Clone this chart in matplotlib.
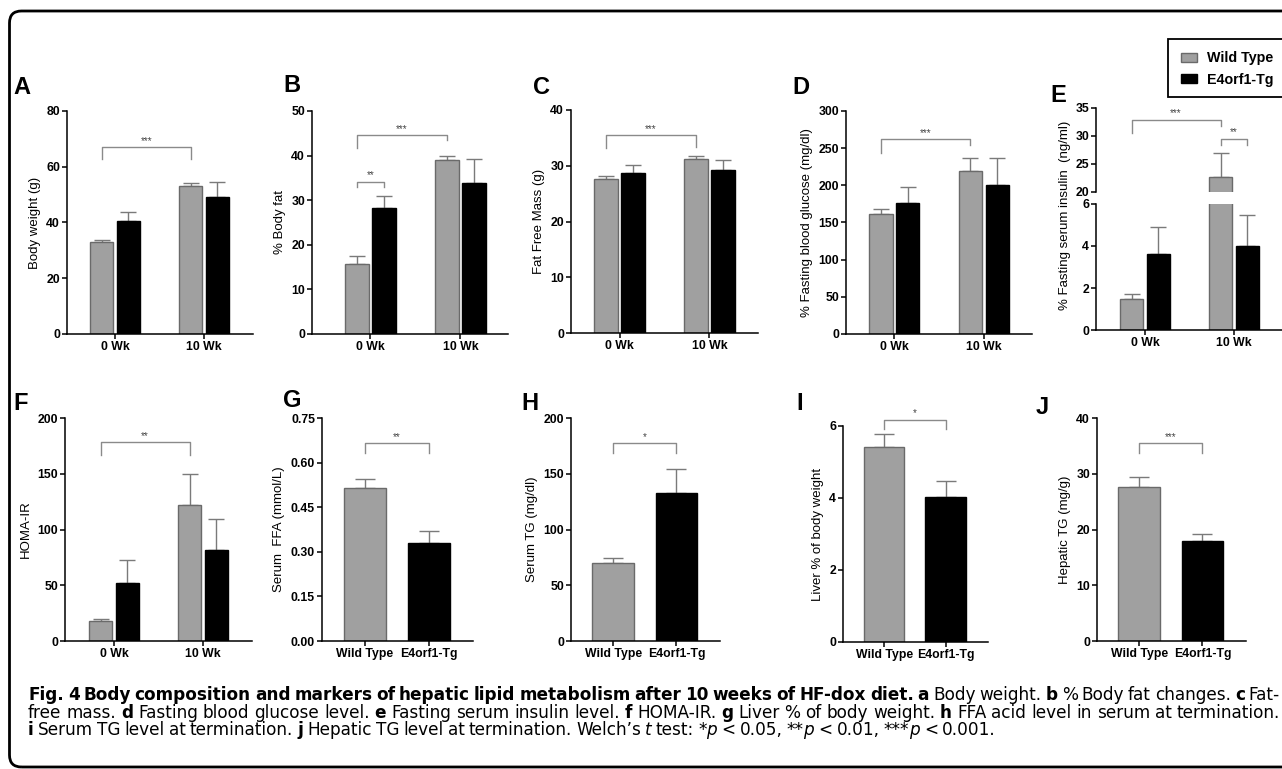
import numpy as np
import matplotlib
matplotlib.use('Agg')
import matplotlib.pyplot as plt
from matplotlib.patches import Patch, FancyBboxPatch, Rectangle

plt.rcParams['font.family'] = ['Liberation Sans', 'DejaVu Sans']

W, H = 1282, 769

# ---- data (mean, upper error) ----
groups = ['0 Wk', '10 Wk']
genotypes = ['Wild Type', 'E4orf1-Tg']

body_weight_wt = [33.0, 53.0]
body_weight_wt_err = [0.7, 1.1]
body_weight_tg = [40.5, 49.1]
body_weight_tg_err = [3.2, 5.4]

body_fat_wt = [15.7, 39.0]
body_fat_wt_err = [1.8, 0.9]
body_fat_tg = [28.3, 33.9]
body_fat_tg_err = [2.6, 5.3]

ffm_wt = [27.6, 31.2]
ffm_wt_err = [0.6, 0.6]
ffm_tg = [28.7, 29.2]
ffm_tg_err = [1.4, 1.8]

glucose_wt = [161.5, 219.0]
glucose_wt_err = [6.5, 18.0]
glucose_tg = [176.0, 200.0]
glucose_tg_err = [22.0, 37.0]

insulin_wt = [1.5, 22.6]
insulin_wt_err = [0.2, 4.4]
insulin_tg = [3.6, 4.0]
insulin_tg_err = [1.3, 1.5]

homa_wt = [18.0, 122.0]
homa_wt_err = [2.0, 28.0]
homa_tg = [52.0, 81.6]
homa_tg_err = [20.6, 27.4]

ffa = [0.515, 0.33]
ffa_err = [0.03, 0.04]
serum_tg = [70.0, 132.7]
serum_tg_err = [4.4, 21.3]
liver_pct = [5.42, 4.03]
liver_pct_err = [0.36, 0.44]
hepatic_tg = [27.6, 17.9]
hepatic_tg_err = [1.8, 1.3]

GRAY = '#a0a0a0'
GRAY_EDGE = '#6a6a6a'
ERR = '#7a7a7a'
BRK = '#8a8a8a'
YLAB = 9.5

fig = plt.figure(figsize=(W / 100, H / 100), dpi=100)


def px_axes(l, t, r, b):
    return fig.add_axes([l / W, 1 - b / H, (r - l) / W, (b - t) / H])


def style_axes(ax, yticks, ylabels=None, bottom=True):
    for s in ['top', 'right']:
        ax.spines[s].set_visible(False)
    for s in ['left', 'bottom']:
        ax.spines[s].set_linewidth(1.1)
    if not bottom:
        ax.spines['bottom'].set_visible(False)
        ax.set_xticks([])
    ax.tick_params(direction='out', length=3.5, width=1.1, pad=1.5, labelsize=8.8)
    if ylabels is None:
        ylabels = [f'{v:g}' for v in yticks]
    ax.set_yticks(yticks, labels=ylabels, fontweight='bold')


def bracket(ax, x1, x2, y, d1, d2, label):
    ax.plot([x1, x1, x2, x2], [d1, y, y, d2], color=BRK, lw=1.0, clip_on=False)
    ax.annotate(label, ((x1 + x2) / 2, y), xytext=(0, 1), textcoords='offset points',
                ha='center', va='bottom', fontsize=7, color='#444444', annotation_clip=False)


def group_bars(ax, wt, wt_err, tg, tg_err, capsize=5.8):
    x = np.arange(len(groups))
    ax.bar(x - 0.15, wt, 0.26, color=GRAY, edgecolor=GRAY_EDGE, linewidth=1.0, zorder=2)
    ax.bar(x + 0.15, tg, 0.26, color='black', edgecolor='black', linewidth=1.0, zorder=2)
    ax.errorbar(x - 0.15, wt, yerr=[np.zeros(2), wt_err], fmt='none', ecolor=ERR,
                elinewidth=1.0, capsize=capsize, capthick=1.0, zorder=1)
    ax.errorbar(x + 0.15, tg, yerr=[np.zeros(2), tg_err], fmt='none', ecolor=ERR,
                elinewidth=1.0, capsize=capsize, capthick=1.0, zorder=1)
    ax.set_xticks(x, labels=groups, fontweight='bold')


def single_bars(ax, vals, err):
    x = np.arange(len(genotypes))
    ax.bar(x, vals, 0.66, color=[GRAY, 'black'], edgecolor=[GRAY_EDGE, 'black'],
           linewidth=1.0, zorder=2)
    ax.errorbar(x, vals, yerr=[np.zeros(2), err], fmt='none', ecolor=ERR,
                elinewidth=1.0, capsize=7.5, capthick=1.0, zorder=1)
    ax.set_xticks(x, labels=genotypes, fontweight='bold')
    ax.set_xlim(-0.67, 1.69)


# ---- row 1 ----
ax = px_axes(67, 111, 253, 334)
group_bars(ax, body_weight_wt, body_weight_wt_err, body_weight_tg, body_weight_tg_err)
ax.set_xlim(-0.54, 1.55)
ax.set_ylim(0, 80)
style_axes(ax, [0, 20, 40, 60, 80])
ax.set_ylabel('Body weight (g)', fontsize=YLAB)
bracket(ax, -0.15, 0.85, 67.0, 62.7, 62.7, '***')

ax = px_axes(312, 111, 508, 334)
group_bars(ax, body_fat_wt, body_fat_wt_err, body_fat_tg, body_fat_tg_err)
ax.set_xlim(-0.65, 1.53)
ax.set_ylim(0, 50)
style_axes(ax, [0, 10, 20, 30, 40, 50])
ax.set_ylabel('% Body fat', fontsize=YLAB)
bracket(ax, -0.15, 0.85, 44.6, 41.7, 43.5, '***')
bracket(ax, -0.15, 0.15, 34.1, 33.0, 33.0, '**')

ax = px_axes(571, 110, 758, 333)
group_bars(ax, ffm_wt, ffm_wt_err, ffm_tg, ffm_tg_err)
ax.set_xlim(-0.54, 1.54)
ax.set_ylim(0, 40)
style_axes(ax, [0, 10, 20, 30, 40])
ax.set_ylabel('Fat Free Mass (g)', fontsize=YLAB)
bracket(ax, -0.15, 0.85, 35.5, 33.2, 33.4, '***')

ax = px_axes(846, 111, 1032, 334)
group_bars(ax, glucose_wt, glucose_wt_err, glucose_tg, glucose_tg_err)
ax.set_xlim(-0.54, 1.54)
ax.set_ylim(0, 300)
style_axes(ax, [0, 50, 100, 150, 200, 250, 300])
ax.set_ylabel('% Fasting blood glucose (mg/dl)', fontsize=YLAB)
bracket(ax, -0.15, 0.85, 262, 243.6, 254, '***')

# broken axis panel E
ax_up = px_axes(1096, 108, 1282, 192)
group_bars(ax_up, insulin_wt, insulin_wt_err, insulin_tg, insulin_tg_err)
ax_up.set_xlim(-0.55, 1.54)
ax_up.set_ylim(20, 35)
style_axes(ax_up, [20, 25, 30, 35], bottom=False)
bracket(ax_up, -0.15, 0.85, 32.9, 30.5, 31.8, '***')
bracket(ax_up, 0.85, 1.15, 29.5, 28.4, 28.4, '**')

ax_lo = px_axes(1096, 204, 1282, 330)
group_bars(ax_lo, insulin_wt, insulin_wt_err, insulin_tg, insulin_tg_err)
ax_lo.set_xlim(-0.55, 1.54)
ax_lo.set_ylim(0, 6)
style_axes(ax_lo, [0, 2, 4, 6])
fig.text(1065 / W, 1 - 215 / H, '% Fasting serum insulin  (ng/ml)', rotation=90,
         ha='center', va='center', fontsize=YLAB)

# ---- row 2 ----
ax = px_axes(65, 418, 252, 641)
group_bars(ax, homa_wt, homa_wt_err, homa_tg, homa_tg_err)
ax.set_xlim(-0.55, 1.55)
ax.set_ylim(0, 200)
style_axes(ax, [0, 50, 100, 150, 200])
ax.set_ylabel('HOMA-IR', fontsize=YLAB)
bracket(ax, -0.15, 0.85, 178.5, 167, 167, '**')

ax = px_axes(322, 418, 473, 641)
single_bars(ax, ffa, ffa_err)
ax.set_ylim(0, 0.75)
ffa_ticks = [0, 0.15, 0.30, 0.45, 0.60, 0.75]
style_axes(ax, ffa_ticks, [f'{v:.2f}' for v in ffa_ticks])
ax.set_ylabel('Serum  FFA (mmol/L)', fontsize=YLAB)
bracket(ax, 0, 1, 0.666, 0.632, 0.632, '**')

ax = px_axes(571, 418, 720, 641)
single_bars(ax, serum_tg, serum_tg_err)
ax.set_ylim(0, 200)
style_axes(ax, [0, 50, 100, 150, 200])
ax.set_ylabel('Serum TG (mg/dl)', fontsize=YLAB)
bracket(ax, 0, 1, 177.6, 168.6, 168.6, '*')

ax = px_axes(843, 426, 988, 642)
single_bars(ax, liver_pct, liver_pct_err)
ax.set_ylim(0, 6)
style_axes(ax, [0, 2, 4, 6])
ax.set_ylabel('Liver % of body weight', fontsize=YLAB)
bracket(ax, 0, 1, 6.17, 5.92, 5.92, '*')

ax = px_axes(1097, 418, 1246, 641)
single_bars(ax, hepatic_tg, hepatic_tg_err)
ax.set_ylim(0, 40)
style_axes(ax, [0, 10, 20, 30, 40])
ax.set_ylabel('Hepatic TG (mg/g)', fontsize=YLAB)
bracket(ax, 0, 1, 35.5, 33.7, 33.7, '***')

# panel letters
letters = ['A', 'B', 'C', 'D', 'E', 'F', 'G', 'H', 'I', 'J']
letter_xy = [(13, 88), (283, 86), (533, 88), (792, 88), (1050, 95),
             (13, 403), (283, 400), (521, 403), (796, 403), (1036, 408)]
for lab, (lx, ly) in zip(letters, letter_xy):
    fig.text(lx / W, 1 - ly / H, lab, fontsize=17, fontweight='bold', ha='left', va='center')

# legend (box runs off the right edge like the source)
fig.patches.append(Rectangle((1168, H - 97), 140, 58, transform=None,
                             facecolor='white', edgecolor='black', linewidth=1.3))
fig.legend(handles=[Patch(facecolor=GRAY, edgecolor=GRAY_EDGE),
                    Patch(facecolor='black', edgecolor='black')],
           labels=genotypes, loc='center left', bbox_to_anchor=(1181 / W, 1 - 69 / H),
           prop={'weight': 'bold', 'size': 10.3}, frameon=False,
           handlelength=1.1, handleheight=0.6,
           borderpad=0.0, labelspacing=0.5, handletextpad=0.7, borderaxespad=0)

# outer rounded frame
frame = FancyBboxPatch((9.5, 2.0), 1320, 756, boxstyle='round,pad=0,rounding_size=12',
                       transform=None, facecolor='none', edgecolor='black', linewidth=2.0)
fig.patches.append(frame)

# caption
cap_lines = [
    [('Fig. 4 Body composition and markers of hepatic lipid metabolism after 10 weeks of HF-dox diet. a', 'b'),
     (' Body weight. ', 'r'), ('b', 'b'), (' % Body fat changes. ', 'r'), ('c', 'b'), (' Fat-', 'r')],
    [('free mass. ', 'r'), ('d', 'b'), (' Fasting blood glucose level. ', 'r'), ('e', 'b'),
     (' Fasting serum insulin level. ', 'r'), ('f', 'b'), (' HOMA-IR. ', 'r'), ('g', 'b'),
     (' Liver % of body weight. ', 'r'), ('h', 'b'), (' FFA acid level in serum at termination.', 'r')],
    [('i', 'b'), (' Serum TG level at termination. ', 'r'), ('j', 'b'),
     (' Hepatic TG level at termination. Welch\u2019s ', 'r'), ('t', 'i'), (' test: *', 'r'),
     ('p', 'i'), (' < 0.05, **', 'r'), ('p', 'i'), (' < 0.01, ***', 'r'), ('p', 'i'), (' < 0.001.', 'r')],
]
cap_base = [700, 717.5, 735]
cap_justify = [True, True, False]
cap_font = ['Liberation Sans Narrow', 'DejaVu Sans']
cap_size = 12.2
x_left, x_right = 28, 1280

renderer = fig.canvas.get_renderer()


def build_pieces(runs):
    pieces = []
    pending = False
    for text, st in runs:
        parts = text.split(' ')
        for k, part in enumerate(parts):
            if k > 0:
                pending = True
            if part:
                pieces.append((part, st, pending and len(pieces) > 0))
                pending = False
    return pieces


all_texts = []
for runs, yb, just in zip(cap_lines, cap_base, cap_justify):
    pieces = build_pieces(runs)
    objs = []
    for word, st, sp in pieces:
        t = fig.text(0, 1 - yb / H, word, fontsize=cap_size, family=cap_font, va='baseline', ha='left',
                     fontweight='bold' if st == 'b' else 'normal',
                     fontstyle='italic' if st == 'i' else 'normal')
        objs.append((t, sp))
    all_texts.append((objs, just))

for objs, just in all_texts:
    widths = [t.get_window_extent(renderer).width for t, _ in objs]
    space = 0.24 * cap_size * 100 / 72
    nsp = sum(1 for _, sp in objs if sp)
    total = sum(widths) + nsp * space
    if just and nsp:
        space += (x_right - x_left - total) / nsp
    x = x_left
    for (t, sp), w in zip(objs, widths):
        if sp:
            x += space
        t.set_x(x / W)
        x += w

fig.savefig('out.png', dpi=100)
